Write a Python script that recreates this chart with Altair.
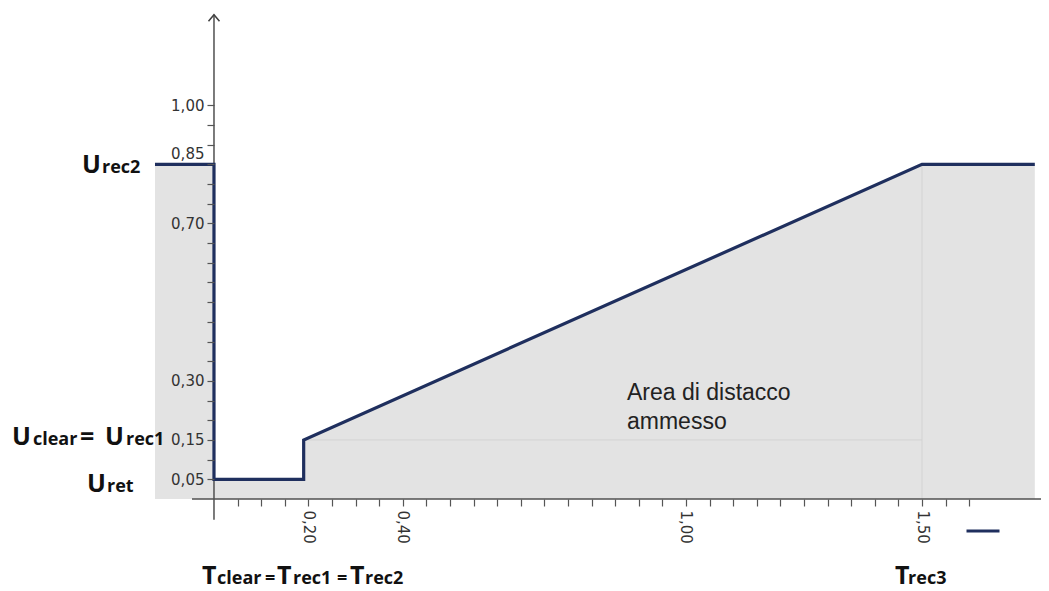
import altair as alt
import pandas as pd

# ---------------- data ----------------
# characteristic curve: time (s) vs voltage (p.u.)
curve_t = [-0.125, 0.0, 0.0, 0.19, 0.19, 1.50, 1.739]
curve_u = [0.85, 0.85, 0.05, 0.05, 0.15, 0.85, 0.85]

# axis ticks (every 0.05) and the ticks that carry a label
x_ticks = [round(0.05 * i, 2) for i in range(1, 33)]
x_labelled = [0.20, 0.40, 1.00, 1.50]
y_ticks = [round(0.05 * i, 2) for i in range(1, 21)]
y_labelled = [0.05, 0.15, 0.30, 0.70, 0.85, 1.00]

# faint reference lines inside the admitted area
grid_x = [0.19, 1.50]
grid_x2 = [1.50, 1.50]
grid_y = [0.15, 0.0]
grid_y2 = [0.15, 0.85]

area_label = "Area di distacco\nammesso"

# composite labels as text pieces:
# text, anchor-x, anchor-y (baseline), pixel shift, font size
label_pieces = [
    ("U", -0.2797, 0.828, 0, 25), ("rec2", -0.2797, 0.828, 20, 18),
    ("U", -0.428, 0.137, 0, 25), ("clear", -0.428, 0.137, 21, 18),
    ("=", -0.428, 0.137, 68, 25), ("U", -0.428, 0.137, 93, 25),
    ("rec1", -0.428, 0.137, 114, 18),
    ("U", -0.269, 0.018, 0, 25), ("ret", -0.269, 0.018, 20, 18),
    ("T", -0.0254, -0.216, 0, 25), ("clear", -0.0254, -0.216, 15, 18),
    ("=", -0.0254, -0.216, 63, 18), ("T", -0.0254, -0.216, 75, 25),
    ("rec1", -0.0254, -0.216, 91, 18), ("=", -0.0254, -0.216, 135, 18),
    ("T", -0.0254, -0.216, 148, 25), ("rec2", -0.0254, -0.216, 163, 18),
    ("T", 1.443, -0.216, 0, 25), ("rec3", 1.443, -0.216, 13, 18),
]

# ---------------- layout ----------------
W, H = 1033, 491
X_DOM = [-0.4364, 1.7521]
Y_DOM = [0.0, 1.2471]
PX_PER_X = W / (X_DOM[1] - X_DOM[0])
NAVY = "#1f2f5e"

XS = alt.Scale(domain=X_DOM, nice=False, zero=False)
YS = alt.Scale(domain=Y_DOM, nice=False, zero=False)

curve = pd.DataFrame({"t": curve_t, "u": curve_u,
                      "k": list(range(len(curve_t))), "serie": [" "] * len(curve_t)})
grid = pd.DataFrame({"x": grid_x, "x2": grid_x2, "y": grid_y, "y2": grid_y2})
pieces = pd.DataFrame([
    {"txt": t, "x": ax + dx / PX_PER_X, "y": ay, "fs": fs}
    for (t, ax, ay, dx, fs) in label_pieces
])


def lab_expr(vals):
    cond = " || ".join(f"abs(datum.value - {v}) < 1e-6" for v in vals)
    return f"({cond}) ? replace(format(datum.value, '.2f'), '.', ',') : ''"


XA = alt.Axis(values=x_ticks, domain=False, grid=False, tickSize=7,
              tickColor="#555555", tickWidth=1.2, labelAngle=90,
              labelAlign="left", labelBaseline="middle", labelPadding=4,
              labelFont="DejaVu Sans", labelFontSize=15, labelColor="#333333",
              labelExpr=lab_expr(x_labelled), labelOverlap=False,
              labelFlush=False, labelBound=False, title=None, zindex=1)
YA = alt.Axis(values=y_ticks, domain=False, grid=False, tickSize=7,
              tickColor="#555555", tickWidth=1.2, labelPadding=3,
              labelFont="DejaVu Sans", labelFontSize=15, labelColor="#333333",
              labelExpr=lab_expr(y_labelled), labelOverlap=False,
              labelFlush=False, labelBound=False, title=None, zindex=1,
              offset=-(0 - X_DOM[0]) * PX_PER_X,
              labelOffset=alt.condition("abs(datum.value - 0.85) < 1e-6",
                                        alt.value(-11), alt.value(0)))


def X(f):
    return alt.X(f, scale=XS, axis=XA, title=None)


def Y(f, **kw):
    return alt.Y(f, scale=YS, axis=YA, title=None, **kw)


area = alt.Chart(curve).mark_area(color="#e3e3e3", interpolate="linear").encode(
    x=X("t:Q"), y=Y("u:Q", stack=None),
)

grid_rules = alt.Chart(grid).mark_rule(color="#d3d3d3", strokeWidth=1).encode(
    x=X("x:Q"), x2="x2:Q", y=Y("y:Q"), y2="y2:Q",
)

x_line = alt.Chart(pd.DataFrame({"a": [-0.0466], "b": [X_DOM[1]], "y": [0.0]})).mark_rule(
    color="#505050", strokeWidth=1.5).encode(x=X("a:Q"), x2="b:Q", y=Y("y:Q"))

y_line = alt.Chart(pd.DataFrame({"x": [0.0], "a": [-0.053], "b": [1.23]})).mark_rule(
    color="#505050", strokeWidth=1.5).encode(x=X("x:Q"), y=Y("a:Q"), y2="b:Q")

arrow = alt.Chart(pd.DataFrame({"x": [0.0], "y": [1.23]})).mark_point(
    shape="M-1,1.2L0,0L1,1.2", filled=False, size=121, strokeWidth=1.5,
    color="#404040", opacity=1).encode(x=X("x:Q"), y=Y("y:Q"))

line = alt.Chart(curve).mark_line(strokeWidth=3.2, interpolate="linear").encode(
    x=X("t:Q"),
    y=Y("u:Q", stack=None),
    order="k:Q",
    color=alt.Color("serie:N", scale=alt.Scale(range=[NAVY]),
                    legend=alt.Legend(orient="none", legendX=957, legendY=505,
                                      title=None, symbolType="stroke",
                                      symbolSize=1089, symbolStrokeWidth=3,
                                      labelExpr="''")),
)

labels = alt.Chart(pieces).mark_text(
    font="Open Sans", fontWeight="bold", align="left", baseline="alphabetic",
    color="#111111").encode(
    x=X("x:Q"), y=Y("y:Q"),
    text="txt:N",
    size=alt.Size("fs:Q", scale=None, legend=None),
)

area_text = alt.Chart(pd.DataFrame({"x": [0.875], "y": [0.2515], "txt": [area_label]})).mark_text(
    font="Liberation Sans", fontSize=23, align="left", baseline="alphabetic",
    lineBreak="\n", lineHeight=29, color="#222222").encode(
    x=X("x:Q"), y=Y("y:Q"), text="txt:N",
)

chart = alt.layer(area, grid_rules, x_line, y_line, arrow, line, labels, area_text).properties(
    width=W, height=H,
    autosize=alt.AutoSizeParams(type="none"),
    padding={"left": 0, "top": 0, "right": 0, "bottom": 92},
    background="white",
).configure_view(strokeWidth=0)

chart.save("out.html", embed_options={"renderer": "svg", "actions": False})
